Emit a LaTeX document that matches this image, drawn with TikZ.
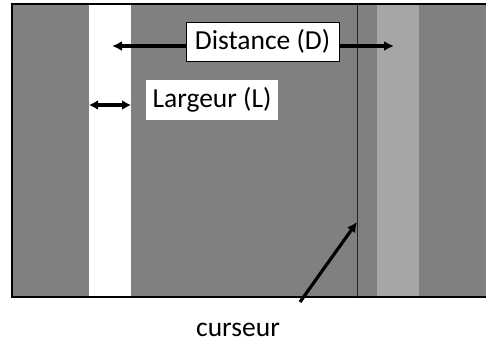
\documentclass[tikz,border=0pt]{standalone}
\usepackage{fontspec}
\setmainfont{Carlito}
\usetikzlibrary{arrows.meta}
\definecolor{darkband}{HTML}{808080}
\definecolor{lightband}{HTML}{A6A6A6}
\begin{document}
\begin{tikzpicture}[x=1pt,y=-1pt,
  lbl/.style={fill=white,inner sep=0pt,font=\fontsize{27.5}{30}\selectfont,anchor=center},
  arr/.style={line width=3.2pt,-{Latex[length=10pt,width=10pt]}},
  darr/.style={line width=3.2pt,{Latex[length=9pt,width=10pt]}-{Latex[length=9pt,width=10pt]}}]
\useasboundingbox (0,0) rectangle (486,349);
\fill[darkband] (12,4) rectangle (490,297);
\fill[white] (89,4) rectangle (131,297);
\fill[lightband] (377,4) rectangle (419,297);
\draw[line width=2pt] (490,4) -- (12,4) -- (12,297) -- (490,297);
\draw[line width=1.3pt,black!85] (357.5,4) -- (357.5,297);
\node[lbl,draw=black,line width=0.9pt,minimum width=153pt,minimum height=39pt] (dist) at (262.5,41.5) {Distance (D)};
\node[lbl,minimum width=132pt,minimum height=40pt] (larg) at (212,100) {Largeur (L)};
\coordinate (dl) at (112,46);
\coordinate (dr) at (394,46);
\draw[arr] (dist.west |- dl) -- (dl);
\draw[arr] (dist.east |- dr) -- (dr);
\coordinate (la) at (89,105);
\coordinate (lb) at (131,105);
\draw[darr] (la) -- (lb);
\node[font=\fontsize{27.5}{30}\selectfont,inner sep=0pt] (curs) at (238,330) {curseur};
\coordinate (ct) at (357,222);
\coordinate (cs) at (300,302);
\draw[arr] (cs) -- (ct);
\end{tikzpicture}
\end{document}
